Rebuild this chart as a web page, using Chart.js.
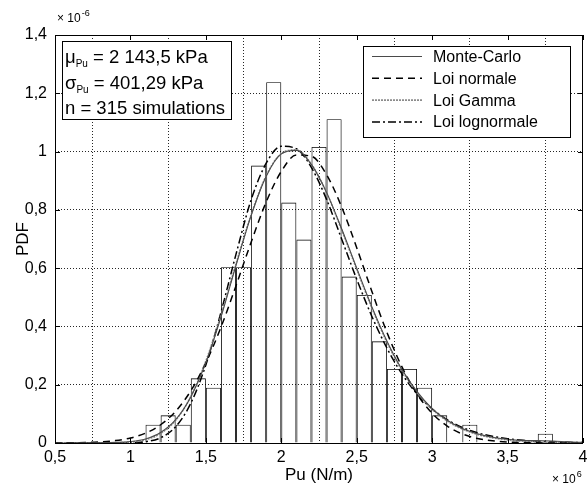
<!DOCTYPE html>
<html>
<head>
<meta charset="utf-8">
<script src="https://cdn.jsdelivr.net/npm/chart.js@4/dist/chart.umd.min.js"></script>
<style>
	html, body { margin: 0; padding: 0; background: #fff; }
	#wrap { width: 587px; height: 488px; position: relative; }
</style>
</head>
<body>
<div id="wrap"><canvas id="chart"></canvas></div>
<script>
const FONT = '"Liberation Sans", Arial, sans-serif'

// Pu (x 10^6 N/m) where the fitted curves were read
const pu = [0.5, 0.6, 0.7, 0.8, 0.9, 1.0, 1.1, 1.2, 1.3, 1.4, 1.5, 1.6, 1.7, 1.8, 1.9, 2.0, 2.1, 2.2,
	2.3, 2.4, 2.5, 2.6, 2.7, 2.8, 2.9, 3.0, 3.1, 3.2, 3.3, 3.4, 3.5, 3.6, 3.7, 3.8, 3.9, 4.0]

// PDF values (x 10^-6)
const monteCarlo = [0, 0, 0.0005, 0.001, 0.002, 0.005, 0.014, 0.036, 0.080, 0.158, 0.276, 0.432, 0.610, 0.780,
	0.915, 0.992, 1.004, 0.955, 0.860, 0.735, 0.600, 0.468, 0.350, 0.252, 0.176, 0.118, 0.078, 0.050,
	0.032, 0.020, 0.013, 0.009, 0.008, 0.007, 0.004, 0.002]
const loiNormale = [0.0002, 0.0006, 0.0015, 0.0037, 0.0082, 0.0171, 0.0338, 0.0626, 0.109, 0.179, 0.275,
	0.397, 0.540, 0.689, 0.827, 0.932, 0.988, 0.984, 0.921, 0.810, 0.670, 0.521, 0.380, 0.261, 0.168,
	0.102, 0.058, 0.031, 0.0156, 0.0074, 0.0033, 0.0014, 0.0005, 0.0002, 0.0001, 0]
const loiGamma = [0, 0, 0, 0.0001, 0.0006, 0.0031, 0.0113, 0.0327, 0.078, 0.159, 0.281, 0.438, 0.615, 0.783,
	0.917, 0.993, 1.006, 0.956, 0.859, 0.732, 0.596, 0.464, 0.346, 0.249, 0.173, 0.116, 0.0756, 0.0479,
	0.0295, 0.0177, 0.0104, 0.0059, 0.0033, 0.0018, 0.001, 0.0005]
const loiLognormale = [0, 0, 0, 0, 0.0001, 0.0007, 0.0043, 0.018, 0.056, 0.136, 0.268, 0.448, 0.648, 0.834,
	0.960, 1.018, 1.010, 0.945, 0.836, 0.700, 0.562, 0.435, 0.326, 0.237, 0.168, 0.117, 0.080, 0.053,
	0.035, 0.023, 0.015, 0.0093, 0.0058, 0.0036, 0.0022, 0.0014]

// histogram of the 315 simulations, bins of 0.1
const binCentres = [1.15, 1.25, 1.35, 1.45, 1.55, 1.65, 1.75, 1.85, 1.95, 2.05, 2.15, 2.25, 2.35, 2.45,
	2.55, 2.65, 2.75, 2.85, 2.95, 3.05, 3.15, 3.25, 3.35, 3.45, 3.55, 3.65, 3.75]
const binPdf = [0.063, 0.095, 0.063, 0.222, 0.190, 0.603, 0.603, 0.952, 1.238, 0.825, 0.698, 1.016, 1.111,
	0.571, 0.508, 0.349, 0.254, 0.254, 0.190, 0.095, 0, 0.063, 0, 0, 0, 0, 0.032]

const statsLines = [
	['μ', 'Pu', ' = 2 143,5 kPa'],
	['σ', 'Pu', ' = 401,29 kPa'],
	['n = 315 simulations', '', '']
]

function points(ys) {
	return pu.map((x, i) => ({ x: x, y: ys[i] }))
}

function comma(v) {
	return String(+v.toFixed(2)).replace('.', ',')
}

function curve(label, ys, color, width, dash, order) {
	return {
		type: 'line', label: label, data: points(ys), borderColor: color, borderWidth: width,
		borderDash: dash, pointRadius: 0, fill: false, cubicInterpolationMode: 'monotone', order: order
	}
}

// "× 10" followed by a raised exponent
function power(ctx, x, y, exp) {
	ctx.font = '12px ' + FONT
	ctx.fillText('× 10', x, y)
	const w = ctx.measureText('× 10').width
	ctx.font = '9px ' + FONT
	ctx.fillText(exp, x + w + 1, y - 6)
}

// Decorations: frame, inward ticks, stats box, legend, exponents, axis titles
const decor = {
	id: 'decor',
	afterDatasetsDraw(chart) {
		const ctx = chart.ctx
		const a = chart.chartArea
		const sx = chart.scales.x
		const sy = chart.scales.y
		ctx.save()
		ctx.strokeStyle = '#000'
		ctx.lineWidth = 1
		ctx.setLineDash([])
		ctx.strokeRect(Math.round(a.left) + 0.5, Math.round(a.top) + 0.5,
			Math.round(a.right - a.left) - 1, Math.round(a.bottom - a.top))
		ctx.beginPath()
		sx.ticks.forEach(t => {
			const px = Math.round(sx.getPixelForValue(t.value)) + 0.5
			ctx.moveTo(px, a.bottom); ctx.lineTo(px, a.bottom - 5)
			ctx.moveTo(px, a.top); ctx.lineTo(px, a.top + 5)
		})
		sy.ticks.forEach(t => {
			const py = Math.round(sy.getPixelForValue(t.value)) + 0.5
			ctx.moveTo(a.left, py); ctx.lineTo(a.left + 5, py)
			ctx.moveTo(a.right, py); ctx.lineTo(a.right - 5, py)
		})
		ctx.stroke()

		// stats box
		ctx.fillStyle = '#fff'
		ctx.fillRect(62.5, 41.5, 169, 78)
		ctx.strokeRect(62.5, 41.5, 169, 78)
		ctx.fillStyle = '#000'
		ctx.textBaseline = 'alphabetic'
		ctx.textAlign = 'left'
		statsLines.forEach((parts, i) => {
			const y = 63 + i * 25.5
			let x = 65
			ctx.font = '18.5px ' + FONT
			ctx.fillText(parts[0], x, y)
			x += ctx.measureText(parts[0]).width
			if (parts[1]) {
				ctx.font = '10px ' + FONT
				ctx.fillText(parts[1], x, y + 4)
				x += ctx.measureText(parts[1]).width
				ctx.font = '18.5px ' + FONT
				ctx.fillText(parts[2], x, y)
			}
		})

		// legend
		ctx.fillStyle = '#fff'
		ctx.fillRect(363.5, 46.5, 207, 91)
		ctx.strokeRect(363.5, 46.5, 207, 91)
		ctx.font = '16px ' + FONT
		ctx.textBaseline = 'middle'
		chart.data.datasets.filter(d => d.type === 'line').forEach((d, i) => {
			const y = 56.5 + i * 21.8
			ctx.strokeStyle = d.borderColor
			ctx.lineWidth = d.borderWidth
			ctx.setLineDash(d.borderDash)
			ctx.beginPath()
			ctx.moveTo(372, y); ctx.lineTo(422, y)
			ctx.stroke()
			ctx.fillStyle = '#000'
			ctx.fillText(d.label, 433, y + 1)
		})
		ctx.restore()
	},
	afterDraw(chart) {
		const ctx = chart.ctx
		const a = chart.chartArea
		ctx.save()
		ctx.fillStyle = '#000'
		ctx.textBaseline = 'alphabetic'
		ctx.textAlign = 'left'
		power(ctx, 57, 22, '-6')
		power(ctx, 552, 483, '6')
		// axis titles
		ctx.font = '17px ' + FONT
		ctx.textAlign = 'center'
		ctx.fillText('Pu (N/m)', (a.left + a.right) / 2, 480)
		ctx.translate(28, (a.top + a.bottom) / 2)
		ctx.rotate(-Math.PI / 2)
		ctx.fillText('PDF', 0, 0)
		ctx.restore()
	}
}

const gridStyle = { color: 'rgba(0,0,0,0.85)', lineWidth: 1, drawTicks: false }
const tickFont = { family: FONT, size: 16 }

new Chart(document.getElementById('chart'), {
	data: {
		datasets: [
			curve('Monte-Carlo', monteCarlo, '#4a4a4a', 1.1, [], 1),
			curve('Loi normale', loiNormale, '#000', 1.5, [7, 5], 2),
			curve('Loi Gamma', loiGamma, '#8c8c8c', 1.6, [2, 1], 3),
			curve('Loi lognormale', loiLognormale, '#000', 1.5, [8, 3, 2, 3], 4),
			{
				type: 'bar', label: 'Histogramme', order: 10,
				data: binCentres.map((x, i) => ({ x: x, y: binPdf[i] })),
				backgroundColor: 'rgba(0,0,0,0)', borderColor: '#000', borderWidth: 0.85,
				inflateAmount: 0, barPercentage: 1, categoryPercentage: 1
			}
		]
	},
	options: {
		responsive: true,
		maintainAspectRatio: false,
		animation: false,
		devicePixelRatio: 1,
		layout: { padding: { left: 0, right: 4, top: 35, bottom: 0 } },
		plugins: { legend: { display: false }, tooltip: { enabled: false } },
		scales: {
			x: {
				type: 'linear', min: 0.5, max: 4, offset: false,
				ticks: { stepSize: 0.5, font: tickFont, color: '#000', padding: 5, maxRotation: 0, autoSkip: false, callback: comma },
				grid: gridStyle,
				border: { display: false, dash: [1, 2] },
				afterFit(s) { s.height = 45; s.paddingLeft = 0; s.paddingRight = 0 }
			},
			y: {
				min: 0, max: 1.4,
				ticks: { stepSize: 0.2, font: tickFont, color: '#000', padding: 8, callback: comma },
				grid: gridStyle,
				border: { display: false, dash: [1, 2] },
				afterFit(s) { s.width = 55 }
			}
		}
	},
	plugins: [decor]
})
</script>
</body>
</html>
